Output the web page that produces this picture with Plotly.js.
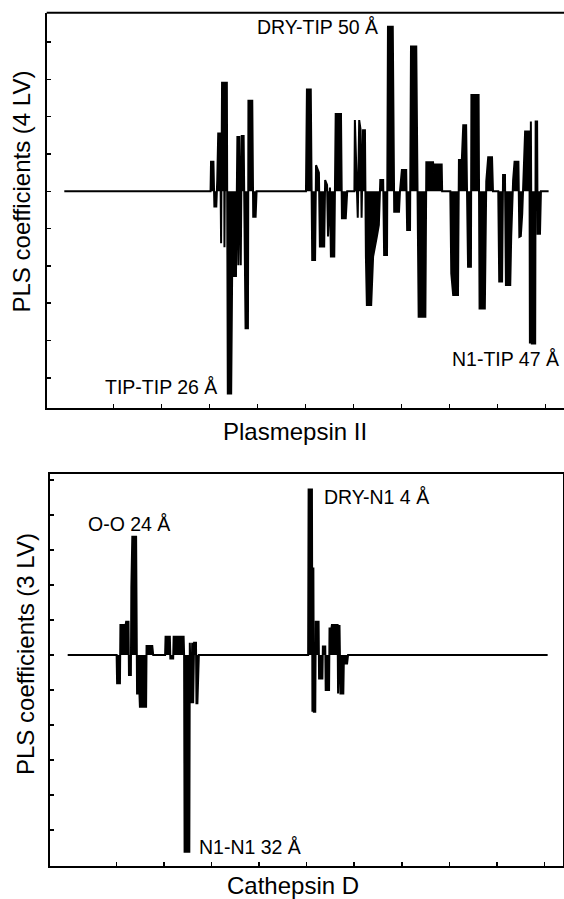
<!DOCTYPE html>
<html>
<head>
<meta charset="utf-8">
<script src="https://cdn.plot.ly/plotly-3.0.1.min.js"></script>
<style>
  html, body { margin: 0; padding: 0; background: #fff; overflow: hidden; }
  #chart { width: 564px; height: 899px; }
</style>
</head>
<body>
<div id="chart"></div>
<script>
// ---- Data: GRIND variable index vs PLS coefficient ----
// Plasmepsin II (4 LV)
const plmX = [0, 305, 306, 311, 313, 317, 319, 321, 325, 327, 329, 333, 334, 336, 339, 341, 348, 350, 358, 360, 361, 363, 365, 368, 370, 374, 376, 378, 383, 384, 392, 394, 399, 401,
  504, 506, 514, 517, 523, 525, 531, 533, 542, 544, 548, 550, 554, 556, 563, 566, 577, 579, 587, 590,
  605, 606, 612, 615, 618, 620, 623, 627, 629, 631, 640, 644, 652, 656, 659, 665, 667, 673, 675, 685, 688, 698, 700,
  704, 713, 715, 721, 723, 734, 736, 739, 753, 755, 769, 771, 773, 787, 788,
  805, 807, 811, 821, 823, 829, 832, 838, 840, 842, 848, 849, 864, 866, 877, 880, 884, 892, 894,
  905, 907, 913, 915, 919, 921, 930, 932, 936, 939, 947, 949, 952, 955, 961, 970, 971, 973, 975, 982, 983, 986, 987, 992, 994, 1010];
const plmY = [0, 0, 0.79, 0.79, -0.41, -0.41, 0.3, 1.55, 1.55, -1.39, 2.91, 2.91, -1.5, 2.91, 2.91, -5.42, -5.42, -2.27, -2.27, 0.2, 1.48, -1.98, 1.48, -1.98, 1.48, 1.48, -1.98, -3.67, -3.67, 2.43, 2.43, -0.68, -0.68, 0,
  0, 2.73, 2.73, -1.84, -1.84, 0.70, 0.5, -1.48, -1.48, 0.3, 0.17, -1.21, 0.1, -1.75, -1.75, 2.07, 2.07, -0.72, -0.72, 0,
  0, 1.91, -0.71, 1.91, 1.64, -0.71, 1.64, 1.64, -1.75, -3.05, -3.05, -1.75, -1.2, -0.9, 0.30, 0.30, -1.71, -1.71, 4.41, 4.41, -0.55, -0.55, 0,
  0.57, 0.57, -1.04, -1.04, 3.88, 3.88, 0.84, -3.36, -3.36, 0.78, 0.78, 0.5, 0.72, 0.72, 0,
  0, -2.2, -2.78, -2.78, 0.84, 0.84, 1.77, 1.77, -0.68, -2.02, -2.02, 2.58, 2.58, -3.14, -3.14, 0.27, 0.91, 0.91, 0,
  0, -2.42, -2.42, 0.44, 0.44, -2.51, -2.51, -1.22, 0.3, 0.79, 0.79, -1.22, -1.2, -0.6, 1.6, 1.6, -4.08, 1.87, -4.08, -4.08, 1.87, 1.87, -1.14, -1.14, 0, 0];

// Cathepsin D (3 LV)
const catX = [0, 103, 104, 110, 111, 122, 123, 128, 129, 133, 134, 136, 144, 145, 146, 151, 152, 165, 166, 178, 180,
  205, 206, 215, 216, 222, 223, 244, 245, 246, 256, 257, 260, 262, 264, 266, 270, 271, 273, 276,
  506, 507, 514, 515, 517, 518, 521, 522, 528, 529, 536, 537, 542, 543, 550, 551, 555, 556, 568, 569, 572, 574, 580, 581, 588, 590, 1010];
const catY = [0, 0, -0.81, -0.81, 0.86, 0.86, 0.95, 0.95, -0.57, -0.57, 1.95, 3.38, 3.38, 1.95, -1.1, -1.1, -1.48, -1.48, 0.26, 0.26, 0,
  0, 0.52, 0.52, -0.1, -0.1, 0.52, 0.52, 0, -5.62, -5.62, 0.35, -1.38, 0.35, -1.38, 0.35, 0.35, -1.38, -1.38, 0,
  0, 4.73, 4.73, -1.62, 2.5, -1.62, -1.62, 0.95, 0.95, -0.67, -0.67, 0.24, 0.24, -1.0, -1.0, 0.76, 0.76, 0.86, 0.86, -1.1, 0.86, -1.1, -1.1, -0.24, -0.24, 0, 0];

// Axis ticks (unlabelled in the original)
const xTickVals = [103, 203, 303, 403, 503, 603, 703, 803, 903, 1003];

// Texts
const topYTitle = 'PLS coefficients (4 LV)';
const botYTitle = 'PLS coefficients (3 LV)';
const topXTitle = 'Plasmepsin II';
const botXTitle = 'Cathepsin D';
const topLabels = ['DRY-TIP 50 Å', 'TIP-TIP 26 Å', 'N1-TIP 47 Å'];
const botLabels = ['O-O 24 Å', 'N1-N1 32 Å', 'DRY-N1 4 Å'];

const FONT = 'Liberation Sans, Arial, Helvetica, sans-serif';
const W = 564, H = 899;
const px = v => v / W;
const py = v => 1 - v / H;

const lineStyle = {color: '#000', width: 2};
const traces = [
  {x: plmX, y: plmY, xaxis: 'x', yaxis: 'y', type: 'scatter', mode: 'lines',
   line: lineStyle, fill: 'tozeroy', fillcolor: '#000', hoverinfo: 'skip'},
  {x: catX, y: catY, xaxis: 'x2', yaxis: 'y2', type: 'scatter', mode: 'lines',
   line: lineStyle, fill: 'tozeroy', fillcolor: '#000', hoverinfo: 'skip'}
];

const axisBase = {
  showline: true, linecolor: '#000', linewidth: 2,
  ticks: 'inside', ticklen: 4, tickwidth: 1.5, tickcolor: '#000',
  showticklabels: false, showgrid: false, zeroline: false, fixedrange: true
};

const labelFont = {family: FONT, size: 19.5, color: '#000'};
const titleFont = {family: FONT, size: 24, color: '#000'};

function label(text, x, y) {
  return {text: text, xref: 'paper', yref: 'paper', x: px(x), y: py(y),
          xanchor: 'left', yanchor: 'middle', showarrow: false, font: labelFont};
}

const layout = {
  width: W, height: H,
  margin: {l: 0, r: 0, t: 0, b: 0},
  paper_bgcolor: '#fff', plot_bgcolor: '#fff',
  showlegend: false,
  xaxis: Object.assign({}, axisBase, {
    domain: [px(46.7), 1], range: [-36.7, 1042.1], anchor: 'y',
    tickmode: 'array', tickvals: xTickVals, mirror: false}),
  yaxis: Object.assign({}, axisBase, {
    domain: [py(407.5), py(12.7)], range: [-5.796, 4.788], anchor: 'x',
    tickmode: 'linear', tick0: 0, dtick: 1, mirror: false}),
  xaxis2: Object.assign({}, axisBase, {
    domain: [px(50), px(563)], range: [-37.2, 1042.3], anchor: 'y2',
    tickmode: 'array', tickvals: xTickVals, mirror: true}),
  yaxis2: Object.assign({}, axisBase, {
    domain: [py(865.5), py(474.3)], range: [-6.014, 5.163], anchor: 'x2',
    tickmode: 'linear', tick0: 0, dtick: 1, mirror: true}),
  shapes: [
    {type: 'line', xref: 'paper', yref: 'paper', x0: px(46.7), x1: 1.01, y0: py(12.7), y1: py(12.7),
     line: {color: '#000', width: 2}}
  ],
  annotations: [
    label(topLabels[0], 255, 26.5),
    label(topLabels[1], 103, 386.7),
    label(topLabels[2], 450, 359),
    label(botLabels[0], 85.5, 523.5),
    label(botLabels[1], 197, 847),
    label(botLabels[2], 322, 496.7),
    {text: topYTitle, xref: 'paper', yref: 'paper', x: px(21), y: py(191.5),
     xanchor: 'center', yanchor: 'middle', textangle: -90, showarrow: false, font: titleFont},
    {text: botYTitle, xref: 'paper', yref: 'paper', x: px(25), y: py(654),
     xanchor: 'center', yanchor: 'middle', textangle: -90, showarrow: false, font: titleFont},
    {text: topXTitle, xref: 'paper', yref: 'paper', x: px(294.5), y: py(431.5),
     xanchor: 'center', yanchor: 'middle', showarrow: false, font: titleFont},
    {text: botXTitle, xref: 'paper', yref: 'paper', x: px(292.5), y: py(885),
     xanchor: 'center', yanchor: 'middle', showarrow: false, font: titleFont}
  ]
};

Plotly.newPlot('chart', traces, layout, {staticPlot: true, displayModeBar: false});
</script>
</body>
</html>
